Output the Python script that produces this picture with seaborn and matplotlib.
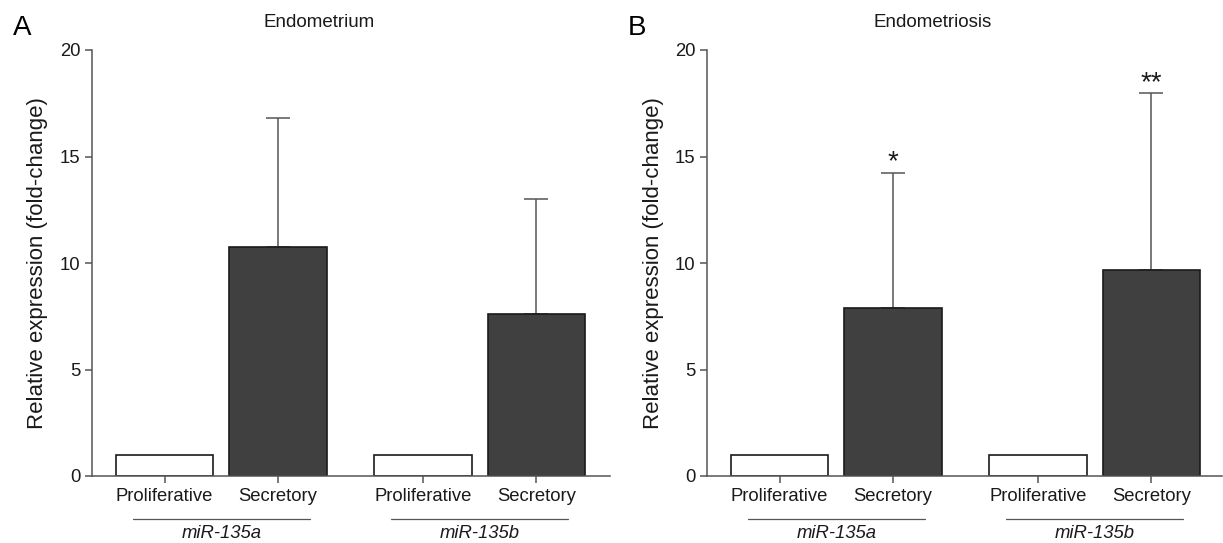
import numpy as np
import pandas as pd
import matplotlib
matplotlib.use("Agg")
import matplotlib.pyplot as plt
import matplotlib.transforms as mtransforms
import seaborn as sns

# ---------------- data ----------------
mirnas = ["miR-135a", "miR-135b"]
phases = ["Proliferative", "Secretory"]
panel_titles = ["Endometrium", "Endometriosis"]
panel_letters = ["A", "B"]
yticks = [0, 5, 10, 15, 20]
ylabel = "Relative expression (fold-change)"

endometrium_prolif = [1.0, 1.0]
endometrium_secretory = [10.75, 7.61]
endometrium_secretory_err = [6.08, 5.38]
endometrium_stars = ["", ""]

endometriosis_prolif = [1.0, 1.0]
endometriosis_secretory = [7.87, 9.69]
endometriosis_secretory_err = [6.37, 8.28]
endometriosis_stars = ["*", "**"]

panels = [
    (endometrium_prolif, endometrium_secretory, endometrium_secretory_err, endometrium_stars),
    (endometriosis_prolif, endometriosis_secretory, endometriosis_secretory_err, endometriosis_stars),
]

# ---------------- style ----------------
sns.set_style("ticks")
plt.rcParams["font.family"] = ["Liberation Sans", "DejaVu Sans"]

W, H = 1223, 543
fig = plt.figure(figsize=(W / 100, H / 100), dpi=100)

axis_color = "#555555"
text_color = "#1a1a1a"
dark = "#404040"

boxes = [(92, 610, -0.5006, 1.505), (707, 1222, -0.5006, 1.493)]
y_bottom_px, y_top_px = 476, 50

for i, ((prolif, secr, secr_err, stars), (lpx, rpx, xmin, xmax)) in enumerate(zip(panels, boxes)):
    ax = fig.add_axes([lpx / W, (H - y_bottom_px) / H, (rpx - lpx) / W, (y_bottom_px - y_top_px) / H])

    df = pd.DataFrame({
        "miRNA": mirnas * 2,
        "phase": [phases[0]] * len(mirnas) + [phases[1]] * len(mirnas),
        "value": list(prolif) + list(secr),
    })
    sns.barplot(data=df, x="miRNA", y="value", hue="phase", order=mirnas,
                hue_order=phases, palette=["white", dark], width=0.878, gap=0.142,
                edgecolor="#1a1a1a", linewidth=1.2, errorbar=None, legend=False,
                ax=ax)

    cont_p, cont_s = ax.containers[0], ax.containers[1]
    xp = [b.get_x() + b.get_width() / 2 for b in cont_p]
    xs = [b.get_x() + b.get_width() / 2 for b in cont_s]
    hs = [b.get_height() for b in cont_s]

    ax.errorbar(xs, hs, yerr=[np.zeros(len(hs)), secr_err], fmt="none",
                ecolor=axis_color, elinewidth=1.1, capsize=8.6, capthick=1.1, zorder=0.5)

    for x, h, e, s in zip(xs, hs, secr_err, stars):
        if s:
            ax.annotate(s, xy=(x, h + e), xytext=(0, 2.5), textcoords="offset points",
                        ha="center", va="baseline", fontsize=20, color=text_color)

    ticks = []
    labels = []
    for a, b in zip(xp, xs):
        ticks += [a, b]
        labels += [phases[0], phases[1]]
    ax.set_xticks(ticks)
    ax.set_xticklabels(labels, fontsize=13.3, color=text_color)

    ax.set_ylim(0, 20)
    ax.set_xlim(xmin, xmax)
    ax.set_yticks(yticks)
    ax.set_yticklabels([str(t) for t in yticks], fontsize=13.3, color=text_color)
    ax.set_xlabel("")
    ax.set_ylabel(ylabel, fontsize=16, color=text_color, va="center")
    ax.yaxis.set_label_coords(-54 / (rpx - lpx), 0.5)

    for side in ["top", "right"]:
        ax.spines[side].set_visible(False)
    for side in ["left", "bottom"]:
        ax.spines[side].set_color(axis_color)
        ax.spines[side].set_linewidth(1.1)
    ax.tick_params(axis="both", direction="out", length=5, width=1.1, color=axis_color)

    trans = mtransforms.blended_transform_factory(ax.transData, ax.transAxes)
    for m, a, b in zip(mirnas, xp, xs):
        gc = (a + b) / 2
        ax.plot([gc - 0.343, gc + 0.343], [-0.101, -0.101], transform=trans,
                clip_on=False, color=axis_color, lw=0.9)
        ax.text(gc, -0.134, m, transform=trans, ha="center", va="center",
                style="italic", fontsize=13.3, color=text_color)

    ax.text(0.438, 1.065, panel_titles[i], transform=ax.transAxes, ha="center",
            va="center", fontsize=13.5, color=text_color)

fig.text(22 / W, 1 - 35 / H, panel_letters[0], ha="center", va="baseline", fontsize=20, color="black")
fig.text(637 / W, 1 - 35 / H, panel_letters[1], ha="center", va="baseline", fontsize=20, color="black")

fig.savefig("out.png", dpi=100)
